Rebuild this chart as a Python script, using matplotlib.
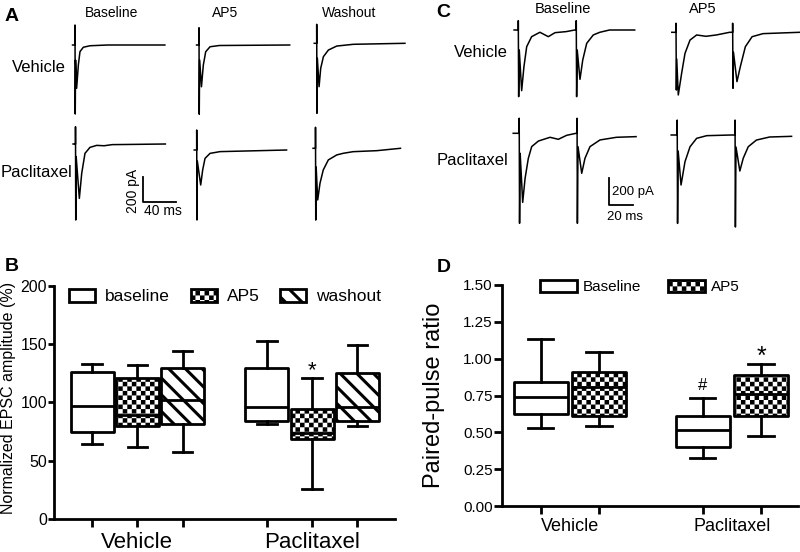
import numpy as np
import matplotlib
matplotlib.use('Agg')
import matplotlib.pyplot as plt
import matplotlib.hatch as mhatch
from matplotlib.path import Path
from matplotlib.patches import Patch

plt.rcParams['font.family'] = ['Liberation Sans', 'DejaVu Sans']
plt.rcParams['hatch.linewidth'] = 2.2

# ---------------- data ----------------
# panel A: EPSC traces, time (ms) / current (pA)
a_veh_base_t = [-3, 0, 0, 0.3, 0.7, 2.0, 4.1, 6.1, 10.2, 18.4, 40, 110]
a_veh_base_i = [0, 0, 160, -552, -120, -346, -160, -53, -18, -6, 0, 0]
a_veh_ap5_t = [-3, 0, 0, 0.3, 0.8, 3.0, 5.3, 8.2, 13.5, 25, 111]
a_veh_ap5_i = [0, 0, 138, -554, -120, -334, -160, -54, -14, -4, 0]
a_veh_wash_t = [-3, 0, 0, 0.3, 0.8, 2.9, 4.9, 8.2, 14.3, 24.5, 44.9, 108]
a_veh_wash_i = [0, 0, 152, -560, -120, -347, -200, -107, -54, -22, -8, 0]
a_pac_base_t = [-3, 0, 0, 0.3, 0.8, 4.7, 7.6, 11.6, 17.7, 25.9, 35, 45, 60, 110]
a_pac_base_i = [0, 0, 138, -608, -100, -435, -235, -75, -27, -11, -14, -5, -4, 0]
a_pac_ap5_t = [-3, 0, 0, 0.3, 0.8, 4.9, 7.3, 10.2, 16.3, 28.5, 60, 110]
a_pac_ap5_i = [0, 0, 160, -560, -90, -280, -160, -67, -27, -13, -8, 0]
a_pac_wash_t = [-3, 0, 0, 0.3, 0.8, 2.7, 5.5, 9.5, 15.7, 26, 34, 46, 75, 104]
a_pac_wash_i = [0, 0, 168, -574, -150, -413, -280, -173, -93, -53, -40, -27, -19, 0]

# panel C: paired-pulse traces, time (ms) / current (pA)
c_veh_base_t = [-3.5, 0, 0, 0.3, 0.8, 2.8, 4.7, 7.0, 11.1, 18, 25, 30.6, 40, 47,
                48.3, 48.3, 48.6, 49.1, 51.4, 53.7, 57, 62.5, 68, 76, 97]
c_veh_base_i = [0, 0, 70, -500, -150, -455, -275, -125, -50, -17, -50, -20, -12, 0,
                0, 70, -500, -150, -370, -225, -100, -37, -17, 0, 0]
c_veh_ap5_t = [-3.5, 0, 0, 0.3, 0.6, 1.9, 4.7, 7.5, 11.7, 17.2, 25, 33.6, 44.7,
               47.2, 47.2, 47.5, 47.9, 50.8, 53.6, 57.8, 63.4, 72.5, 103]
c_veh_ap5_i = [0, 0, 68, -433, -200, -470, -307, -158, -58, -20, -30, -20, 0,
               0, 68, -420, -150, -370, -258, -108, -33, -10, 0]
c_pac_base_t = [-5, 0, 0, 0.3, 0.8, 2.9, 4.9, 7.6, 10.4, 16, 25.7, 32.6, 39.6, 47.4,
                48.2, 48.2, 48.5, 49, 52.1, 54.8, 59, 67.3, 81, 97.4]
c_pac_base_i = [0, 0, 113, -675, -150, -518, -338, -188, -100, -58, -30, -45, -15, 0,
                0, 113, -675, -100, -300, -188, -100, -50, -30, -25]
c_pac_ap5_t = [-5, 0, 0, 0.3, 0.8, 3.2, 6.5, 10.7, 16.2, 24.6, 45,
               48.2, 48.2, 48.5, 49, 52.2, 55, 59.2, 66, 77, 95.3]
c_pac_ap5_i = [0, 0, 112, -663, -120, -375, -200, -88, -25, -5, 0,
               0, 112, -690, -90, -270, -175, -88, -38, -15, -10]

# panel B: normalized EPSC amplitude (%), order: veh base/AP5/wash, pac base/AP5/wash
b_groups = ['Vehicle', 'Paclitaxel']
b_conditions = ['baseline', 'AP5', 'washout']
b_whishi = [132.7, 132, 144.3, 152.6, 120.7, 149]
b_q3 = [126.4, 121.2, 129.3, 129.8, 94.2, 125.5]
b_med = [97.3, 89.3, 102, 96.4, 73.6, 96.4]
b_q1 = [75, 79.9, 81.6, 84.4, 68.5, 84.4]
b_whislo = [64.5, 61.6, 57.9, 81.3, 25.7, 79.9]

# panel D: paired-pulse ratio, order: veh base/AP5, pac base/AP5
d_groups = ['Vehicle', 'Paclitaxel']
d_conditions = ['Baseline', 'AP5']
d_whishi = [1.133, 1.047, 0.733, 0.966]
d_q3 = [0.84, 0.907, 0.613, 0.889]
d_med = [0.738, 0.805, 0.516, 0.76]
d_q1 = [0.622, 0.613, 0.403, 0.613]
d_whislo = [0.527, 0.543, 0.328, 0.477]


# checkerboard hatch on the 'O' character (filled squares instead of circles)
class CheckerHatch(mhatch.HatchPatternBase):
    cells = 22

    def __init__(self, hatch, density):
        n = self.cells
        self.num_vertices = (n * n // 2) * 5 if 'O' in hatch else 0

    def set_vertices_and_codes(self, vertices, codes):
        n = self.cells
        c = 1.0 / n
        pad = plt.rcParams['hatch.linewidth'] / 72 / 2
        s = c - pad
        sq = np.array([[pad, pad], [s, pad], [s, s], [pad, s], [pad, pad]])
        cells = [(i, j) for i in range(n) for j in range(n) if (i + j) % 2 == 0]
        vertices[:] = np.concatenate([sq + [i * c, j * c] for i, j in cells])
        codes[:] = np.tile([Path.MOVETO, Path.LINETO, Path.LINETO, Path.LINETO,
                            Path.CLOSEPOLY], len(cells))


mhatch._hatch_types = [h for h in mhatch._hatch_types
                       if h is not mhatch.LargeCircles] + [CheckerHatch]

W, H = 800, 552
fig = plt.figure(figsize=(8, 5.52), dpi=100)


def fx(x):
    return x / W


def fy(y):
    return 1 - y / H


def trace_ax(x0, y0, sx, sy):
    # small invisible axes whose data origin sits on pixel (x0, y0)
    ax = fig.add_axes([fx(x0 - 20), fy(y0 + 20), 40 / W, 40 / H])
    ax.set_xlim(-20 / sx, 20 / sx)
    ax.set_ylim(-20 / sy, 20 / sy)
    ax.axis('off')
    return ax


# ---------------- panel A ----------------
sxa, sya = 0.817, 0.125
a_traces = [((75, 45), a_veh_base_t, a_veh_base_i),
            ((199, 45), a_veh_ap5_t, a_veh_ap5_i),
            ((316.7, 43.3), a_veh_wash_t, a_veh_wash_i),
            ((75.5, 144), a_pac_base_t, a_pac_base_i),
            ((196.7, 150), a_pac_ap5_t, a_pac_ap5_i),
            ((315.5, 148.3), a_pac_wash_t, a_pac_wash_i)]
for (x0, y0), t, i in a_traces:
    trace_ax(x0, y0, sxa, sya).plot(t, i, color='k', lw=1.1, clip_on=False)
sb = trace_ax(143.3, 201.7, sxa, sya)
sb.plot([0, 0, 40], [200, 0, 0], color='k', lw=1.3, clip_on=False)

fig.text(fx(5), fy(21), 'A', fontsize=14, fontweight='bold')
for x, s in [(112, 'Baseline'), (225.5, 'AP5'), (349, 'Washout')]:
    fig.text(fx(x), fy(17), s, fontsize=10, ha='center')
fig.text(fx(39), fy(71.7), 'Vehicle', fontsize=12, ha='center')
fig.text(fx(36), fy(177.3), 'Paclitaxel', fontsize=12, ha='center')
fig.text(fx(133.5), fy(191), '200 pA', fontsize=10, rotation=90, ha='center', va='center')
fig.text(fx(162.5), fy(215), '40 ms', fontsize=10, ha='center')

# ---------------- panel C ----------------
sxc, syc = 1.2, 1 / 7.5
c_traces = [((518.3, 30), c_veh_base_t, c_veh_base_i),
            ((676, 32.3), c_veh_ap5_t, c_veh_ap5_i),
            ((519.2, 133.3), c_pac_base_t, c_pac_base_i),
            ((677.2, 135), c_pac_ap5_t, c_pac_ap5_i)]
for (x0, y0), t, i in c_traces:
    trace_ax(x0, y0, sxc, syc).plot(t, i, color='k', lw=1.1, clip_on=False)
sb = trace_ax(609.3, 205, sxc, syc)
sb.plot([0, 0, 20], [200, 0, 0], color='k', lw=1.3, clip_on=False)

fig.text(fx(436), fy(17), 'C', fontsize=14, fontweight='bold')
fig.text(fx(563), fy(13.3), 'Baseline', fontsize=10.5, ha='center')
fig.text(fx(702.5), fy(13.3), 'AP5', fontsize=10.5, ha='center')
fig.text(fx(480.8), fy(56.7), 'Vehicle', fontsize=12, ha='center')
fig.text(fx(472.7), fy(165), 'Paclitaxel', fontsize=12, ha='center')
fig.text(fx(611.7), fy(195), '200 pA', fontsize=9.5)
fig.text(fx(606.7), fy(220), '20 ms', fontsize=9.5)

box_kw = dict(patch_artist=True, showfliers=False, manage_ticks=False,
              boxprops=dict(lw=2, edgecolor='k', facecolor='white', joinstyle='round'),
              whiskerprops=dict(lw=2, color='k'),
              capprops=dict(lw=2, color='k'),
              medianprops=dict(lw=2, color='k'))


def style_axes(ax):
    for side in ['top', 'right']:
        ax.spines[side].set_visible(False)
    for side in ['left', 'bottom']:
        ax.spines[side].set_linewidth(2)
    # group labels sit on minor ticks that share a spot with a major tick
    ax.xaxis.remove_overlapping_locs = False


# ---------------- panel B ----------------
axb = fig.add_axes([fx(54), fy(519.3), 341 / W, 233.6 / H])
b_pos = [1, 2, 3, 4.86, 5.86, 6.86]
b_hatch = ['', 'O', '\\\\'] * 2
b_stats = [dict(whishi=a, q3=b, med=c, q1=d, whislo=e)
           for a, b, c, d, e in zip(b_whishi, b_q3, b_med, b_q1, b_whislo)]
res = axb.bxp(b_stats, positions=b_pos, widths=0.95, capwidths=0.43, **box_kw)
for box, h in zip(res['boxes'], b_hatch):
    box.set_hatch(h)
axb.set_xlim(0.16, 7.69)
axb.set_ylim(0, 200)
axb.set_yticks(np.arange(0, 201, 50))
axb.set_xticks(b_pos)
axb.set_xticklabels([])
axb.set_xticks([2, 5.86], b_groups, minor=True)
axb.tick_params(axis='y', length=4, width=2, pad=1, labelsize=11.5)
axb.tick_params(axis='x', which='major', length=6, width=2)
axb.tick_params(axis='x', which='minor', length=0, pad=9, labelsize=16)
style_axes(axb)
axb.set_ylabel('Normalized EPSC amplitude (%)', fontsize=11.5)
axb.yaxis.set_label_coords(-0.112, 0.52)
axb.text(5.86, 127, '*', fontsize=16, ha='center', va='center')
handles = [Patch(facecolor='white', edgecolor='k', lw=2, hatch=h)
           for h in b_hatch[:3]]
axb.legend(handles, b_conditions, ncol=3, loc='center left',
           bbox_to_anchor=(0.044, 0.954), frameon=False, fontsize=12.5,
           borderpad=0, borderaxespad=0, handlelength=1.5, handleheight=0.8,
           handletextpad=0.57, columnspacing=1.2)
fig.text(fx(5), fy(271), 'B', fontsize=14, fontweight='bold')

# ---------------- panel D ----------------
axd = fig.add_axes([fx(501.7), fy(506), 296 / W, 221 / H])
d_pos = [1, 2, 3.78, 4.78]
d_hatch = ['', 'O'] * 2
d_stats = [dict(whishi=a, q3=b, med=c, q1=d, whislo=e)
           for a, b, c, d, e in zip(d_whishi, d_q3, d_med, d_q1, d_whislo)]
res = axd.bxp(d_stats, positions=d_pos, widths=0.93, capwidths=0.43, **box_kw)
for box, h in zip(res['boxes'], d_hatch):
    box.set_hatch(h)
axd.set_xlim(0.33, 5.41)
axd.set_ylim(0, 1.5)
axd.set_yticks(np.arange(0, 1.51, 0.25))
axd.yaxis.set_major_formatter('{x:.2f}')
axd.set_xticks(d_pos)
axd.set_xticklabels([])
axd.set_xticks([1.5, 4.28], d_groups, minor=True)
axd.tick_params(axis='y', length=6, width=2, pad=0.5, labelsize=11)
axd.tick_params(axis='x', which='major', length=6, width=2)
axd.tick_params(axis='x', which='minor', length=0, pad=8.5, labelsize=13)
style_axes(axd)
axd.set_ylabel('Paired-pulse ratio', fontsize=17)
axd.yaxis.set_label_coords(-0.19, 0.5)
axd.text(3.78, 0.82, '#', fontsize=12, ha='center', va='center')
axd.text(4.78, 1.015, '*', fontsize=18, ha='center', va='center')
handles = [Patch(facecolor='white', edgecolor='k', lw=2, hatch=h)
           for h in d_hatch[:2]]
axd.legend(handles, d_conditions, ncol=2, loc='center left',
           bbox_to_anchor=(0.129, 0.989), frameon=False, fontsize=11,
           borderpad=0, borderaxespad=0, handlelength=2.4, handleheight=0.76,
           handletextpad=0.4, columnspacing=1.76)
fig.text(fx(437), fy(272), 'D', fontsize=14, fontweight='bold')

fig.savefig('out.png', dpi=100)
